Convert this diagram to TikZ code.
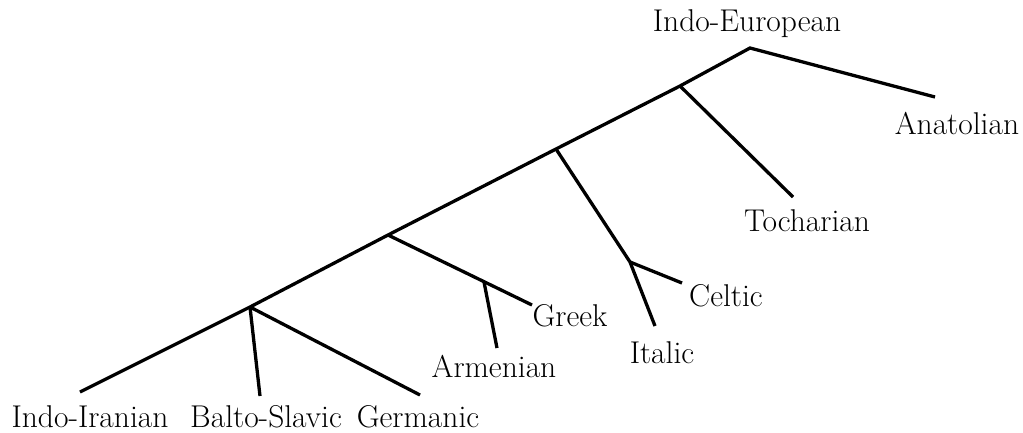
\documentclass[tikz,border=0pt]{standalone}
\usepackage{fontspec}
\usepackage{tikz}

\begin{document}
\begin{tikzpicture}[x=1pt, y=-1pt, line width=3.3pt,
    lang node/.style={font=\fontsize{31.5}{36}\selectfont, inner sep=0pt},]

\useasboundingbox (0,0) rectangle (1023,432);

% splits
\coordinate (ie) at (750,48);
\coordinate (n1) at (680,86);
\coordinate (n2) at (556,149);
\coordinate (n3) at (388,235);
\coordinate (n4) at (250,307);
\coordinate (ic) at (630,262);
\coordinate (ag) at (484,282);

% branch ends
\coordinate (ana) at (935,97);
\coordinate (toc) at (793,197);
\coordinate (cel) at (682,283);
\coordinate (ita) at (655,326);
\coordinate (gre) at (532,305);
\coordinate (arm) at (497,348);
\coordinate (ger) at (420,395);
\coordinate (bs) at (260,396);
\coordinate (ii) at (80,392);

\node[lang node] (lie) at (747,24) {Indo-European};
\node[lang node] (lana) at (957,123) {Anatolian};
\node[lang node] (ltoc) at (807,221) {Tocharian};
\node[lang node] (lcel) at (726,296) {Celtic};
\node[lang node] (lita) at (662,353) {Italic};
\node[lang node] (lgre) at (570,316) {Greek};
\node[lang node] (larm) at (494,366) {Armenian};
\node[lang node] (lii) at (90,417) {Indo-Iranian};
\node[lang node] (lbs) at (266,417) {Balto-Slavic};
\node[lang node] (lger) at (418,417) {Germanic};

\draw (ana) -- (ie) -- (n1) -- (n2) -- (n3) -- (n4) -- (ii);
\draw (n2) -- (ic) -- (ita);

\path[draw]
(n1) edge (toc)
(ic) edge (cel)
(n3) edge (gre)
(ag) edge (arm)
(n4) edge (bs)
(n4) edge (ger);

\end{tikzpicture}
\end{document}
